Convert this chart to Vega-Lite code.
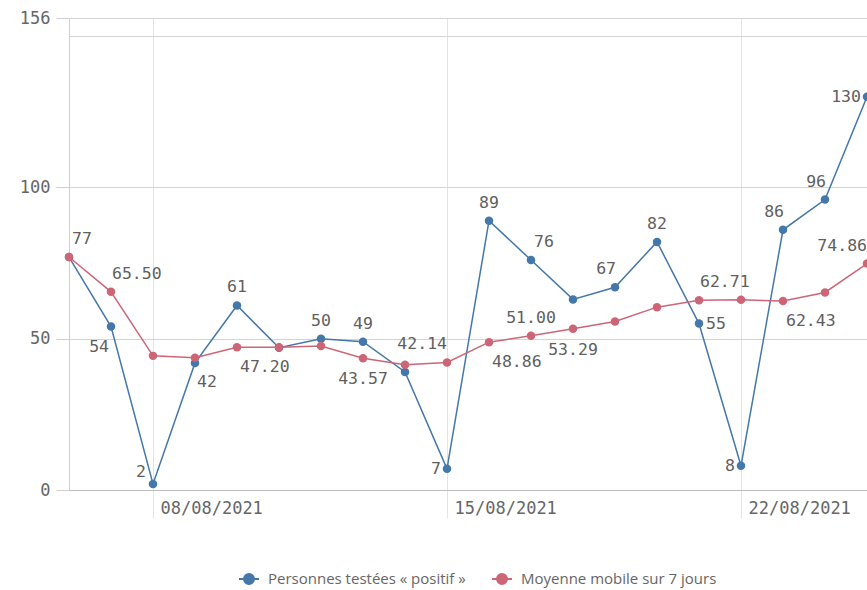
{
  "$schema": "https://vega.github.io/schema/vega-lite/v6.json",
  "width": 798,
  "height": 472,
  "autosize": {"type": "none"},
  "padding": {"left": 69, "top": 18, "right": 0, "bottom": 100},
  "background": "white",
  "config": {
    "view": {"stroke": null},
    "text": {"font": "DejaVu Sans Mono", "fontSize": 16.5, "fill": "#5f5f5f", "baseline": "middle"}
  },
  "data": {
    "values": [
      {"date": "2021-08-06", "series": "Personnes testées « positif »", "value": 77},
      {"date": "2021-08-07", "series": "Personnes testées « positif »", "value": 54},
      {"date": "2021-08-08", "series": "Personnes testées « positif »", "value": 2},
      {"date": "2021-08-09", "series": "Personnes testées « positif »", "value": 42},
      {"date": "2021-08-10", "series": "Personnes testées « positif »", "value": 61},
      {"date": "2021-08-11", "series": "Personnes testées « positif »", "value": 47},
      {"date": "2021-08-12", "series": "Personnes testées « positif »", "value": 50},
      {"date": "2021-08-13", "series": "Personnes testées « positif »", "value": 49},
      {"date": "2021-08-14", "series": "Personnes testées « positif »", "value": 39},
      {"date": "2021-08-15", "series": "Personnes testées « positif »", "value": 7},
      {"date": "2021-08-16", "series": "Personnes testées « positif »", "value": 89},
      {"date": "2021-08-17", "series": "Personnes testées « positif »", "value": 76},
      {"date": "2021-08-18", "series": "Personnes testées « positif »", "value": 63},
      {"date": "2021-08-19", "series": "Personnes testées « positif »", "value": 67},
      {"date": "2021-08-20", "series": "Personnes testées « positif »", "value": 82},
      {"date": "2021-08-21", "series": "Personnes testées « positif »", "value": 55},
      {"date": "2021-08-22", "series": "Personnes testées « positif »", "value": 8},
      {"date": "2021-08-23", "series": "Personnes testées « positif »", "value": 86},
      {"date": "2021-08-24", "series": "Personnes testées « positif »", "value": 96},
      {"date": "2021-08-25", "series": "Personnes testées « positif »", "value": 130},
      {"date": "2021-08-06", "series": "Moyenne mobile sur 7 jours", "value": 77},
      {"date": "2021-08-07", "series": "Moyenne mobile sur 7 jours", "value": 65.5},
      {"date": "2021-08-08", "series": "Moyenne mobile sur 7 jours", "value": 44.33},
      {"date": "2021-08-09", "series": "Moyenne mobile sur 7 jours", "value": 43.75},
      {"date": "2021-08-10", "series": "Moyenne mobile sur 7 jours", "value": 47.2},
      {"date": "2021-08-11", "series": "Moyenne mobile sur 7 jours", "value": 47.17},
      {"date": "2021-08-12", "series": "Moyenne mobile sur 7 jours", "value": 47.57},
      {"date": "2021-08-13", "series": "Moyenne mobile sur 7 jours", "value": 43.57},
      {"date": "2021-08-14", "series": "Moyenne mobile sur 7 jours", "value": 41.43},
      {"date": "2021-08-15", "series": "Moyenne mobile sur 7 jours", "value": 42.14},
      {"date": "2021-08-16", "series": "Moyenne mobile sur 7 jours", "value": 48.86},
      {"date": "2021-08-17", "series": "Moyenne mobile sur 7 jours", "value": 51.0},
      {"date": "2021-08-18", "series": "Moyenne mobile sur 7 jours", "value": 53.29},
      {"date": "2021-08-19", "series": "Moyenne mobile sur 7 jours", "value": 55.71},
      {"date": "2021-08-20", "series": "Moyenne mobile sur 7 jours", "value": 60.43},
      {"date": "2021-08-21", "series": "Moyenne mobile sur 7 jours", "value": 62.71},
      {"date": "2021-08-22", "series": "Moyenne mobile sur 7 jours", "value": 62.86},
      {"date": "2021-08-23", "series": "Moyenne mobile sur 7 jours", "value": 62.43},
      {"date": "2021-08-24", "series": "Moyenne mobile sur 7 jours", "value": 65.29},
      {"date": "2021-08-25", "series": "Moyenne mobile sur 7 jours", "value": 74.86}
    ]
  },
  "encoding": {
    "x": {
      "field": "date", "type": "temporal",
      "scale": {"type": "utc", "domain": [{"year": 2021, "month": 8, "date": 6, "utc": true}, {"year": 2021, "month": 8, "date": 25, "utc": true}]},
      "axis": {
        "title": null,
        "values": [{"year": 2021, "month": 8, "date": 8, "utc": true}, {"year": 2021, "month": 8, "date": 15, "utc": true}, {"year": 2021, "month": 8, "date": 22, "utc": true}],
        "labelExpr": "utcFormat(datum.value, '%d/%m/%Y')",
        "labelFont": "DejaVu Sans Mono", "labelFontSize": 17, "labelColor": "#666666",
        "labelAlign": "left", "labelBaseline": "top", "labelOffset": 7, "labelPadding": -18,
        "tickSize": 28, "tickColor": "#e3e3e3",
        "domainColor": "#bdbdbd", "domainWidth": 1,
        "grid": true, "gridColor": "#e3e3e3"
      }
    },
    "y": {
      "field": "value", "type": "quantitative",
      "scale": {"domain": [0, 156], "nice": false},
      "axis": {
        "title": null,
        "values": [0, 50, 100, 150, 156],
        "labelExpr": "datum.value === 150 ? '' : datum.label",
        "labelFont": "DejaVu Sans Mono", "labelFontSize": 17, "labelColor": "#666666",
        "labelPadding": 6, "tickSize": 13,
        "tickColor": {"condition": {"test": "datum.value === 150", "value": "transparent"}, "value": "#cfcfcf"},
        "domainColor": "#cfcfcf",
        "grid": true, "gridColor": "#d4d4d4"
      }
    }
  },
  "layer": [
    {
      "mark": {"type": "line", "strokeWidth": 1.5},
      "encoding": {
        "color": {
          "field": "series", "type": "nominal",
          "scale": {"domain": ["Personnes testées « positif »", "Moyenne mobile sur 7 jours"], "range": ["#4477aa", "#cc6677"]},
          "legend": {
            "title": null, "orient": "none", "direction": "horizontal",
            "legendX": 169, "legendY": 550,
            "labelFont": "Open Sans", "labelFontSize": 15, "labelColor": "#666666", "labelLimit": 0,
            "symbolType": "M-1,0L1,0M-0.5,0A0.5,0.5,0,1,0,0.5,0A0.5,0.5,0,1,0,-0.5,0Z",
            "symbolSize": 400, "symbolStrokeWidth": 2,
            "labelOffset": 8, "columnPadding": 22,
            "encode": {"symbols": {"update": {"fill": {"scale": "color", "field": "value"}, "stroke": {"scale": "color", "field": "value"}}}}
          }
        },
        "order": {"field": "date"}
      }
    },
    {
      "mark": {"type": "point", "filled": true, "size": 72, "opacity": 1},
      "encoding": {
        "color": {"field": "series", "type": "nominal"}
      }
    },
    {
      "transform": [{"filter": "datum.series === 'Personnes testées « positif »' && indexof([10,12,13,16,20], utcdate(datum.date)) >= 0"}],
      "mark": {"type": "text", "align": "center", "dy": -18},
      "encoding": {"text": {"field": "value", "type": "quantitative", "format": "d"}}
    },
    {
      "transform": [{"filter": "datum.series === 'Personnes testées « positif »' && indexof([6,17], utcdate(datum.date)) >= 0"}],
      "mark": {"type": "text", "align": "left", "dx": 3, "dy": -18},
      "encoding": {"text": {"field": "value", "type": "quantitative", "format": "d"}}
    },
    {
      "transform": [{"filter": "datum.series === 'Personnes testées « positif »' && indexof([19,23,24], utcdate(datum.date)) >= 0"}],
      "mark": {"type": "text", "align": "right", "dx": 1, "dy": -18},
      "encoding": {"text": {"field": "value", "type": "quantitative", "format": "d"}}
    },
    {
      "transform": [{"filter": "datum.series === 'Personnes testées « positif »' && indexof([9], utcdate(datum.date)) >= 0"}],
      "mark": {"type": "text", "align": "left", "dx": 2, "dy": 19},
      "encoding": {"text": {"field": "value", "type": "quantitative", "format": "d"}}
    },
    {
      "transform": [{"filter": "datum.series === 'Personnes testées « positif »' && indexof([7], utcdate(datum.date)) >= 0"}],
      "mark": {"type": "text", "align": "right", "dx": -2, "dy": 20},
      "encoding": {"text": {"field": "value", "type": "quantitative", "format": "d"}}
    },
    {
      "transform": [{"filter": "datum.series === 'Personnes testées « positif »' && indexof([15,22,25], utcdate(datum.date)) >= 0"}],
      "mark": {"type": "text", "align": "right", "dx": -6, "dy": 0},
      "encoding": {"text": {"field": "value", "type": "quantitative", "format": "d"}}
    },
    {
      "transform": [{"filter": "datum.series === 'Personnes testées « positif »' && indexof([8], utcdate(datum.date)) >= 0"}],
      "mark": {"type": "text", "align": "right", "dx": -7, "dy": -12},
      "encoding": {"text": {"field": "value", "type": "quantitative", "format": "d"}}
    },
    {
      "transform": [{"filter": "datum.series === 'Personnes testées « positif »' && indexof([21], utcdate(datum.date)) >= 0"}],
      "mark": {"type": "text", "align": "left", "dx": 7, "dy": 0},
      "encoding": {"text": {"field": "value", "type": "quantitative", "format": "d"}}
    },
    {
      "transform": [{"filter": "datum.series === 'Moyenne mobile sur 7 jours' && indexof([17], utcdate(datum.date)) >= 0"}],
      "mark": {"type": "text", "align": "center", "dy": -18},
      "encoding": {"text": {"field": "value", "type": "quantitative", "format": ".2f"}}
    },
    {
      "transform": [{"filter": "datum.series === 'Moyenne mobile sur 7 jours' && indexof([7,21], utcdate(datum.date)) >= 0"}],
      "mark": {"type": "text", "align": "left", "dx": 1, "dy": -18},
      "encoding": {"text": {"field": "value", "type": "quantitative", "format": ".2f"}}
    },
    {
      "transform": [{"filter": "datum.series === 'Moyenne mobile sur 7 jours' && indexof([15,25], utcdate(datum.date)) >= 0"}],
      "mark": {"type": "text", "align": "right", "dx": 0, "dy": -18},
      "encoding": {"text": {"field": "value", "type": "quantitative", "format": ".2f"}}
    },
    {
      "transform": [{"filter": "datum.series === 'Moyenne mobile sur 7 jours' && indexof([13,18], utcdate(datum.date)) >= 0"}],
      "mark": {"type": "text", "align": "center", "dy": 21},
      "encoding": {"text": {"field": "value", "type": "quantitative", "format": ".2f"}}
    },
    {
      "transform": [{"filter": "datum.series === 'Moyenne mobile sur 7 jours' && indexof([10,16,23], utcdate(datum.date)) >= 0"}],
      "mark": {"type": "text", "align": "left", "dx": 3, "dy": 20},
      "encoding": {"text": {"field": "value", "type": "quantitative", "format": ".2f"}}
    }
  ]
}
